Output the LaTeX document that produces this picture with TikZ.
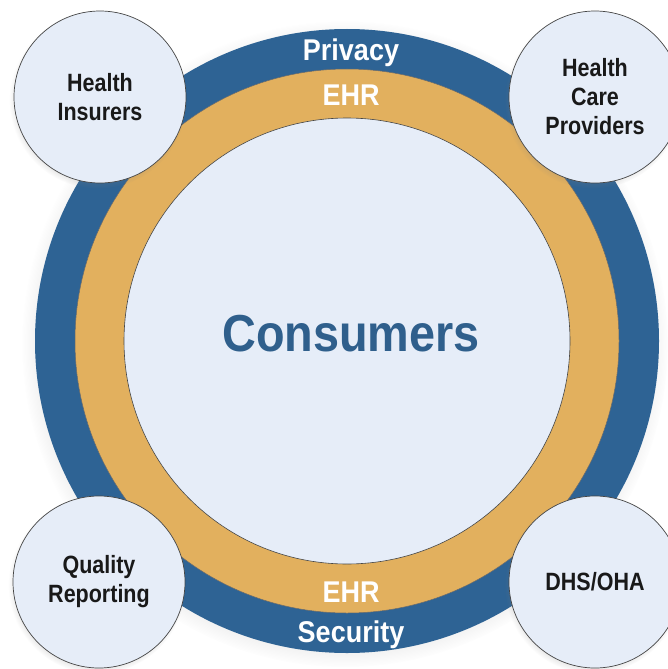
\documentclass[tikz,border=0pt]{standalone}
\usepackage{fontspec}
\setmainfont{Liberation Sans}
\newfontfamily\condsans[FakeStretch=0.9]{Liberation Sans}
\newfontfamily\narrowsans[FakeStretch=0.86]{Liberation Sans}
\usetikzlibrary{shadows}
\definecolor{ringblue}{RGB}{46,99,148}
\definecolor{ringgold}{RGB}{226,176,94}
\definecolor{paleblue}{RGB}{230,237,248}
\definecolor{textblue}{RGB}{47,95,140}
\definecolor{edgegray}{RGB}{70,70,70}
\tikzset{
  ring/.style={circle, inner sep=0pt, outer sep=0pt},
  ringlabel/.style={anchor=base, text=white, font=\condsans\bfseries\fontsize{30}{34}\selectfont},
  partner/.style={circle, inner sep=0pt, minimum size=172pt, fill=paleblue,
    draw=edgegray, line width=0.7pt, align=center, text=black!90,
    font=\narrowsans\bfseries\fontsize{25}{29}\selectfont,
    circular drop shadow={shadow xshift=-2pt, shadow yshift=-3pt, shadow scale=1.03, opacity=0.35}}
}
\begin{document}
\begin{tikzpicture}[x=1pt,y=-1pt]
\useasboundingbox (0,0) rectangle (668,669);
\fill[white] (0,0) rectangle (668,669);
% rings
\node[ring, minimum size=624pt, fill=ringblue,
  circular drop shadow={shadow xshift=-2pt, shadow yshift=-3pt, shadow scale=1.035, opacity=0.3}]
  (outer) at (347,341) {};
\node[ring, minimum size=544pt, fill=ringgold, draw=edgegray!80, line width=0.5pt] (gold) at (347,341) {};
\node[ring, minimum size=446pt, fill=paleblue, draw=edgegray, line width=0.6pt] (inner) at (347,341) {};
% ring labels
\node[ringlabel] (privacy) at (351,60) {Privacy};
\node[ringlabel] (ehrtop) at (351,105) {EHR};
\node[ringlabel] (ehrbot) at (351,602) {EHR};
\node[ringlabel] (security) at (351,642) {Security};
\node[anchor=base, text=textblue, font=\condsans\bfseries\fontsize{52}{58}\selectfont] (consumers) at (351,351) {Consumers};
% partner circles
\node[partner] (insurers) at (100,97) {Health\\Insurers};
\node[partner] (providers) at (595,97) {Health\\Care\\Providers};
\node[partner] (quality) at (99,582) {Quality\\Reporting};
\node[partner] (dhs) at (595,582) {DHS/OHA};
\end{tikzpicture}
\end{document}
